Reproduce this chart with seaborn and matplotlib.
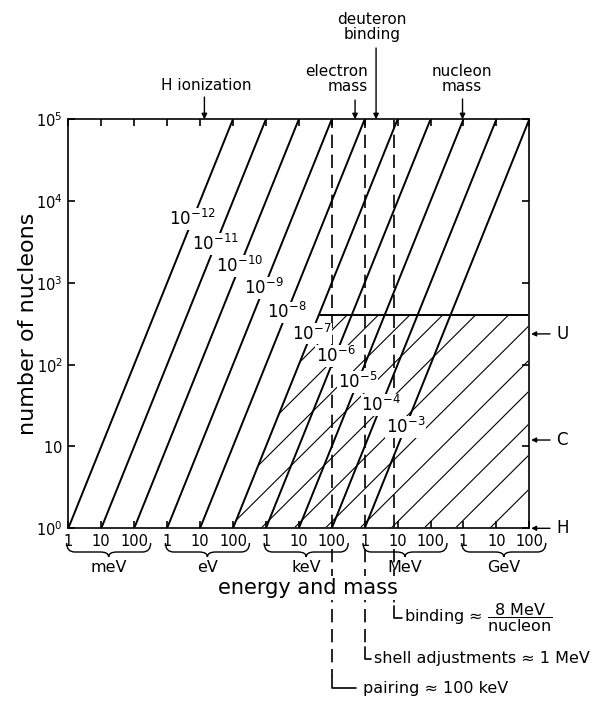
import numpy as np
import pandas as pd
import matplotlib
matplotlib.use("Agg")
import matplotlib.pyplot as plt
import matplotlib.transforms as mtransforms
from matplotlib.patches import Polygon, PathPatch
from matplotlib.path import Path
import seaborn as sns

# steep lines E = E0 * A  (E0 = energy at A = 1, in eV)
line_E0 = [1e-3, 1e-2, 1e-1, 1e0, 1e1, 1e2, 1e3, 1e4, 1e5, 1e6]
line_labels = ["10^{-12}", "10^{-11}", "10^{-10}", "10^{-9}", "10^{-8}",
               "10^{-7}", "10^{-6}", "10^{-5}", "10^{-4}", "10^{-3}"]
label_A = [6000, 3000, 1620, 870, 436, 240, 129, 62, 32, 17.4]

# nuclei region (hatched)
nuclei_Amax = 410
nuclei_E0 = 100          # left edge follows the 10^-7 line
hatch_E0 = [0.089, 0.79, 7.1, 71, 708, 7080, 6.3e4, 7.1e5, 6.3e6, 6.3e7, 5.6e8, 6.3e9]
hatch_power = 0.4

# characteristic nuclear energies (dashed)
dash_E = [1e5, 1e6, 8e6]

# top markers
top_E = [13.6, 5.11e5, 2.22e6, 9.38e8]
top_text = ["H ionization", "electron\nmass", "deuteron\nbinding", "nucleon\nmass"]

# right markers
elem_A = [238, 12, 1]
elem_names = ["U", "C", "H"]

# x axis
xticks = [1e-3, 1e-2, 1e-1, 1e0, 1e1, 1e2, 1e3, 1e4, 1e5, 1e6, 1e7, 1e8, 1e9, 1e10, 1e11]
xticklabels = ["1", "10", "100"] * 5
units = ["meV", "eV", "keV", "MeV", "GeV"]
unit_E = [1e-3, 1e0, 1e3, 1e6, 1e9]
yticks = [1, 10, 100, 1e3, 1e4, 1e5]
yticklabels = ["$10^0$", "$10$", "$10^2$", "$10^3$", "$10^4$", "$10^5$"]

sns.set_style("ticks")
plt.rcParams["font.family"] = ["DejaVu Sans"]
plt.rcParams["mathtext.fontset"] = "dejavusans"
plt.rcParams["text.color"] = "black"
plt.rcParams["axes.labelcolor"] = "black"
plt.rcParams["xtick.color"] = "black"
plt.rcParams["ytick.color"] = "black"

fig = plt.figure(figsize=(6.08, 7.07), dpi=100)
H = 707.0
ax = fig.add_axes([68.3 / 608, (H - 528.3) / H, 461 / 608, 409 / H])


def ypx(y):
    # figure pixel row -> axes fraction
    return (528.3 - y) / 409.0


rows = []
for i, e0 in enumerate(line_E0):
    for a in [1, 1e5]:
        rows.append({"line": i, "E": e0 * a, "A": a})
df = pd.DataFrame(rows)
sns.lineplot(data=df, x="E", y="A", units="line", estimator=None, sort=False,
             color="black", lw=1.4, ax=ax, legend=False)

ax.set_xscale("log")
ax.set_yscale("log")

# nuclei region
poly = Polygon([(nuclei_E0, 1), (1e11, 1), (1e11, nuclei_Amax),
                (nuclei_E0 * nuclei_Amax, nuclei_Amax)], closed=True,
               transform=ax.transData, fc="none", ec="none")
ax.add_patch(poly)
ax.plot([nuclei_E0 * nuclei_Amax, 1e11], [nuclei_Amax, nuclei_Amax], color="black", lw=1.4)
for e0 in hatch_E0:
    E = np.array([e0, e0 * 1e9])
    ln, = ax.plot(E, (E / e0) ** hatch_power, color="black", lw=0.8)
    ln.set_clip_path(poly)

# line labels
for e0, lab, a in zip(line_E0, line_labels, label_A):
    ax.text(e0 * a, a, f"${lab}$", ha="center", va="center", fontsize=12, zorder=5,
            bbox=dict(boxstyle="square,pad=0.05", fc="white", ec="none"))

trans_xd = mtransforms.blended_transform_factory(ax.transData, ax.transAxes)
trans_yd = mtransforms.blended_transform_factory(ax.transAxes, ax.transData)

# dashed verticals with bottom brackets
corner_y = [688, 659, 618]
corner_end = [5.5e5, 1.6e6, 1.33e7]
text_x = [9e5, 1.9e6, 1.55e7]
bottom_text = ["pairing ≈ 100 keV", "shell adjustments ≈ 1 MeV",
               r"binding ≈ $\dfrac{\mathsf{8\ MeV}}{\mathsf{nucleon}}$"]
for e, cy, ce, tx, t in zip(dash_E, corner_y, corner_end, text_x, bottom_text):
    ax.plot([e, e], [1, 1e5], color="black", lw=1.2, ls=(0, (8, 4)))
    ax.plot([e, e], [ypx(549), ypx(cy - 12)], color="black", lw=1.2, ls=(0, (8, 4)),
            transform=trans_xd, clip_on=False)
    ax.plot([e, e, ce], [ypx(cy - 12), ypx(cy), ypx(cy)], color="black", lw=1.2,
            transform=trans_xd, clip_on=False)
    ax.text(tx, ypx(cy), t, transform=trans_xd, ha="left", va="center", fontsize=11.5)

# top arrows
arrow_start = [ypx(97), ypx(100), ypx(48), ypx(99)]
label_pos = [(15, ypx(86), "center"), (1.26e6, ypx(79), "right"),
             (1.7e6, ypx(27), "center"), (9e8, ypx(79), "center")]
for e, ys, (tx, ty, ha), t in zip(top_E, arrow_start, label_pos, top_text):
    ax.annotate("", xy=(e, 1e5), xycoords="data", xytext=(e, ys),
                textcoords=("data", "axes fraction"),
                arrowprops=dict(arrowstyle="-|>", color="black", lw=1.0,
                                mutation_scale=8, shrinkA=0, shrinkB=0))
    ax.text(tx, ty, t, transform=trans_xd, ha=ha, va="center", multialignment=ha,
            fontsize=11, linespacing=1.05)

# right element markers
for a, name in zip(elem_A, elem_names):
    ax.annotate("", xy=(1.004, a), xycoords=("axes fraction", "data"),
                xytext=(1.045, a), textcoords=("axes fraction", "data"),
                arrowprops=dict(arrowstyle="-|>", color="black", lw=1.0,
                                mutation_scale=7, shrinkA=0, shrinkB=0),
                annotation_clip=False)
    ax.text(1.058, a, name, transform=trans_yd, ha="left", va="center", fontsize=12)

# braces under the unit groups
yt, ym, yb = ypx(543), ypx(552), ypx(557)
for e1, u in zip(unit_E, units):
    l = np.log10(e1) - 0.05
    r = np.log10(e1) + 2.5
    m = (l + r) / 2
    q = 0.25
    pts = [(l, yt), (l, ym), (l + q, ym), (m - q, ym), (m, ym), (m, yb),
           (m, ym), (m + q, ym), (r - q, ym), (r, ym), (r, yt)]
    codes = [Path.MOVETO, Path.CURVE3, Path.CURVE3, Path.LINETO, Path.CURVE3, Path.CURVE3,
             Path.CURVE3, Path.CURVE3, Path.LINETO, Path.CURVE3, Path.CURVE3]
    verts = [(10 ** x, y) for x, y in pts]
    ax.add_patch(PathPatch(Path(verts, codes), transform=trans_xd, fc="none",
                           ec="black", lw=1.0, clip_on=False))
    ax.text(10 ** m, ypx(567), u, transform=trans_xd, ha="center", va="center", fontsize=11.5)

ax.set_xlim(1e-3, 1e11)
ax.set_ylim(1, 1e5)
ax.minorticks_off()
ax.set_xticks(xticks, labels=xticklabels)
ax.set_yticks(yticks, labels=yticklabels)
ax.tick_params(which="major", direction="in", length=5, width=1.2,
               top=True, right=True, labelsize=10.5, pad=4)
for s in ax.spines.values():
    s.set_linewidth(1.4)
ax.set_axisbelow(False)

ax.set_xlabel("energy and mass", fontsize=15,
              bbox=dict(boxstyle="square,pad=0.1", fc="white", ec="none"))
ax.xaxis.set_label_coords(0.52, ypx(578))
ax.set_ylabel("number of nucleons", fontsize=16)
ax.yaxis.set_label_coords(-0.066, 0.5)

fig.savefig("out.png", dpi=100)
